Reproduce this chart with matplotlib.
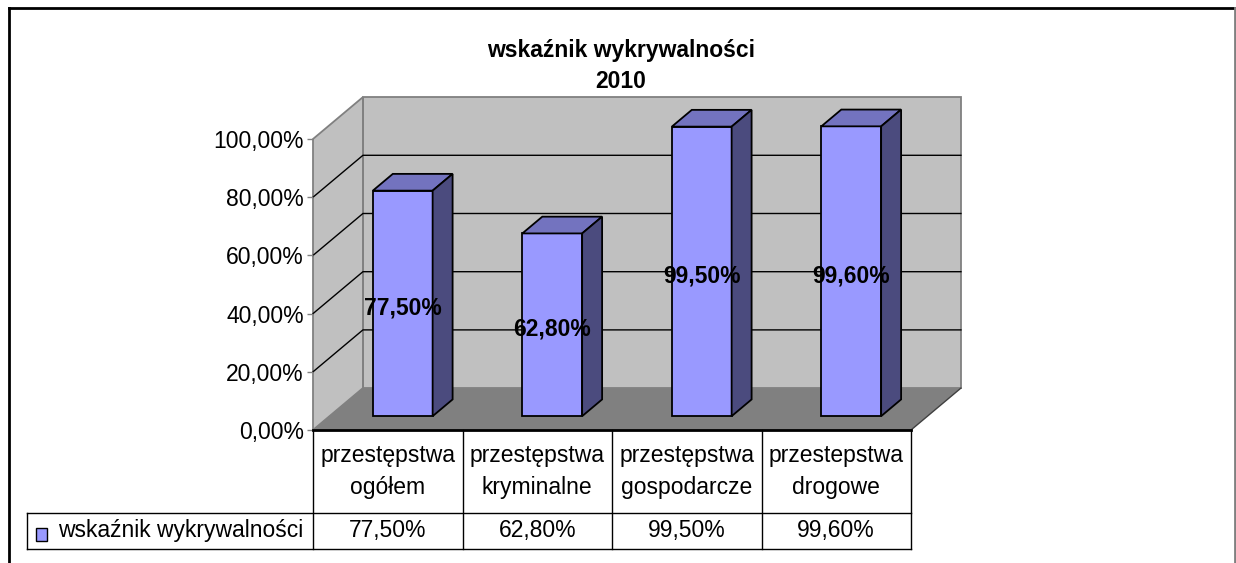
import numpy as np
import matplotlib
matplotlib.use('Agg')
import matplotlib.pyplot as plt
from matplotlib.patches import Polygon, Rectangle
from matplotlib.lines import Line2D
from matplotlib.ticker import FuncFormatter

plt.rcParams['font.family'] = ['Liberation Sans', 'DejaVu Sans']

categories = ['przestępstwa\nogółem', 'przestępstwa\nkryminalne',
              'przestępstwa\ngospodarcze', 'przestepstwa\ndrogowe']
values = [0.775, 0.628, 0.995, 0.996]
value_labels = ['77,50%', '62,80%', '99,50%', '99,60%']
series_name = 'wskaźnik wykrywalności'
title = 'wskaźnik wykrywalności\n2010'
yticks = [0, 0.2, 0.4, 0.6, 0.8, 1.0]

FS = 16.5
W, H = 1236, 563
fig = plt.figure(figsize=(W / 100, H / 100), dpi=100)
ax = fig.add_axes([313 / W, 133 / H, 598 / W, 291 / H])
ax.set_xlim(-0.5, len(values) - 0.5)
ax.set_ylim(0, 1)
for s in ax.spines.values():
    s.set_visible(False)
ax.patch.set_visible(False)
ax.set_xticks([])
ax.set_yticks(yticks)
ax.yaxis.set_major_formatter(FuncFormatter(lambda v, p: f'{v * 100:.2f}%'.replace('.', ',')))
ax.tick_params(axis='y', length=4.5, width=1, color='#808080', labelsize=FS, pad=2)

# 3d depth offsets (category units, value units)
DX, DY = 0.334, 0.144
x = np.arange(len(values))
left, right = -0.5, len(values) - 0.5

# walls and floor
ax.add_patch(Rectangle((left + DX, DY), right - left, 1, fc='#c0c0c0', ec='#808080',
                       lw=1.3, clip_on=False, zorder=0))
ax.add_patch(Polygon([(left, 0), (left + DX, DY), (left + DX, 1 + DY), (left, 1)],
                     closed=True, fc='#c0c0c0', ec='#808080', lw=1.3, clip_on=False, zorder=0))
for g in yticks[1:-1]:
    ax.plot([left, left + DX, right + DX], [g, g + DY, g + DY], color='black', lw=1,
            clip_on=False, zorder=0.5)
ax.add_patch(Polygon([(left, 0), (right, 0), (right + DX, DY), (left + DX, DY)],
                     closed=True, fc='#808080', ec='none', clip_on=False, zorder=1))
ax.plot([right, right + DX], [0, DY], color='#404040', lw=1, clip_on=False, zorder=1.5)

# bars
f0, f1 = 0.33, 0.73
bw = 0.40
b0 = f0 * DY
xb = x + f0 * DX - 0.01
ax.bar(xb, values, width=bw, bottom=b0, color='#9999ff', edgecolor='black', lw=1.3,
       zorder=3, clip_on=False)
ddx, ddy = (f1 - f0) * DX, (f1 - f0) * DY
for xi, v, lab in zip(xb, values, value_labels):
    l, r, t = xi - bw / 2, xi + bw / 2, b0 + v
    ax.add_patch(Polygon([(l, t), (r, t), (r + ddx, t + ddy), (l + ddx, t + ddy)],
                         closed=True, fc='#7373bf', ec='black', lw=1.3, zorder=3, clip_on=False))
    ax.add_patch(Polygon([(r, b0), (r + ddx, b0 + ddy), (r + ddx, t + ddy), (r, t)],
                         closed=True, fc='#4b4b7e', ec='black', lw=1.3, zorder=3, clip_on=False))
    ax.text(xi, b0 + v / 2 - 0.016, lab, ha='center', va='center', fontsize=FS,
            fontweight='bold', zorder=5)

# data table
y_head = -0.285
y_bot = -0.409
x_leg = -2.413
ax.plot([left, right], [0, 0], color='black', lw=2, clip_on=False, zorder=4)
ax.plot([x_leg, right], [y_head, y_head], color='black', lw=1, clip_on=False)
ax.plot([x_leg, right], [y_bot, y_bot], color='black', lw=1, clip_on=False)
ax.plot([x_leg, x_leg], [y_head, y_bot], color='black', lw=1, clip_on=False)
for b in np.arange(left, right + 0.5, 1.0):
    ax.plot([b, b], [0, y_bot], color='black', lw=1, clip_on=False)
for xi, cat, lab in zip(x, categories, value_labels):
    ax.text(xi, y_head / 2, cat, ha='center', va='center', fontsize=FS, linespacing=1.45)
    ax.text(xi, (y_head + y_bot) / 2, lab, ha='center', va='center', fontsize=FS)
ax.add_patch(Rectangle((-2.350, -0.380), 0.074, 0.042, fc='#9999ff', ec='black', lw=1,
                       clip_on=False))
ax.text(-2.206, (y_head + y_bot) / 2, series_name, ha='left', va='center', fontsize=FS)

# title
fig.text(621 / W, 1 - 66 / H, title, ha='center', va='center', fontsize=FS,
         fontweight='bold', linespacing=1.45)

# outer frame
fig.add_artist(Line2D([9 / W, 1235 / W], [1 - 8 / H, 1 - 8 / H], transform=fig.transFigure,
                      color='black', lw=2))
fig.add_artist(Line2D([9 / W, 9 / W], [0, 1 - 8 / H], transform=fig.transFigure,
                      color='black', lw=2))
fig.add_artist(Line2D([1235 / W, 1235 / W], [0, 1 - 8 / H], transform=fig.transFigure,
                      color='#808080', lw=2))

fig.savefig('out.png', dpi=100)
